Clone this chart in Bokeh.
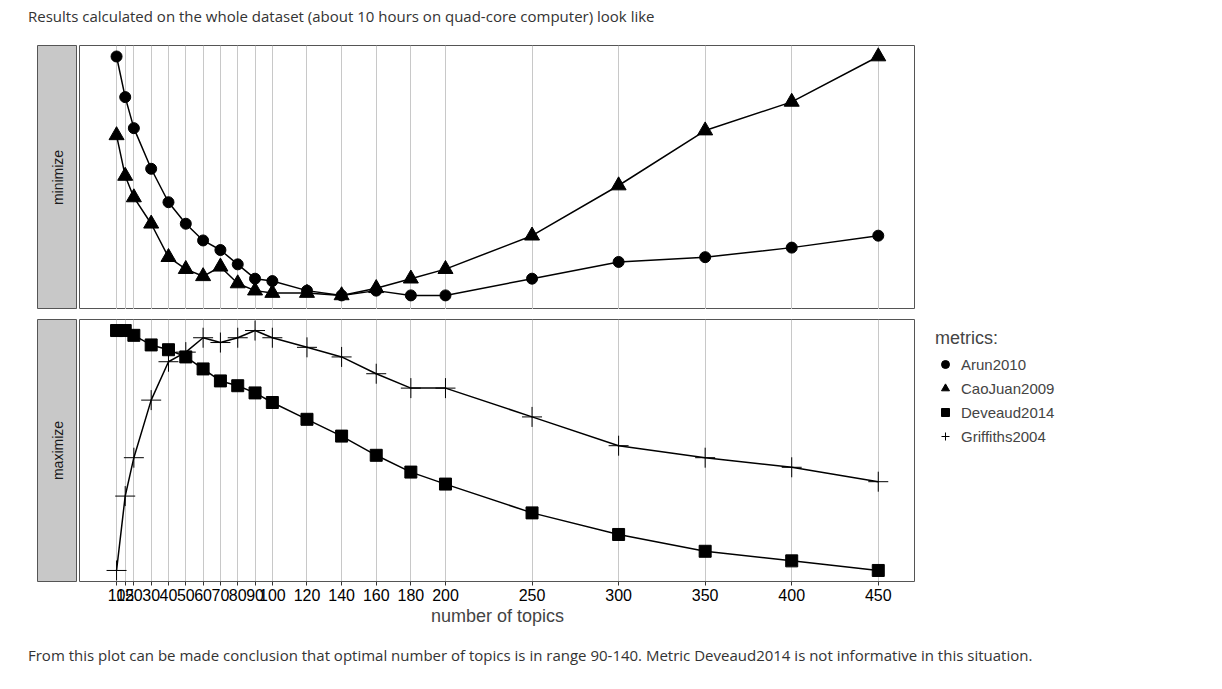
from math import pi
from bokeh.plotting import figure
from bokeh.models import Range1d, FixedTicker, Legend, LegendItem, Div
from bokeh.layouts import row, column
from bokeh.core.properties import value
from bokeh.embed import file_html
from bokeh.resources import INLINE

topics = [10, 15, 20, 30, 40, 50, 60, 70, 80, 90, 100, 120, 140, 160, 180, 200, 250, 300, 350, 400, 450]
tick_labels = {10: "10", 15: "15", 20: "20", 30: "30", 40: "40", 50: "50", 60: "60", 70: "70", 80: "80",
               90: "90", 100: "100", 120: "120", 140: "140", 160: "160", 180: "180", 200: "200",
               250: "250", 300: "300", 350: "350", 400: "400", 450: "450"}

# minimize panel (normalised metrics)
arun2010 = [1.00, 0.83, 0.70, 0.53, 0.39, 0.30, 0.23, 0.19, 0.13, 0.07, 0.06, 0.02, 0.00, 0.02, 0.00, 0.00,
            0.07, 0.14, 0.16, 0.20, 0.25]
caojuan2009 = [0.67, 0.50, 0.41, 0.30, 0.16, 0.11, 0.08, 0.12, 0.05, 0.02, 0.01, 0.01, 0.00, 0.03, 0.07, 0.11,
               0.25, 0.46, 0.69, 0.81, 1.00]
# maximize panel
deveaud2014 = [1.00, 1.00, 0.98, 0.94, 0.92, 0.89, 0.84, 0.79, 0.77, 0.74, 0.70, 0.63, 0.56, 0.48, 0.41, 0.36,
               0.24, 0.15, 0.08, 0.04, 0.00]
griffiths2004 = [0.00, 0.31, 0.47, 0.71, 0.87, 0.91, 0.97, 0.95, 0.97, 1.00, 0.97, 0.93, 0.89, 0.82, 0.76, 0.76,
                 0.64, 0.52, 0.47, 0.43, 0.37]

FONT = "Liberation Sans"
xr = Range1d(-11.4, 471.5)


def panel(h, yr, show_axis):
    p = figure(width=836, height=h, x_range=xr, y_range=Range1d(*yr), toolbar_location=None,
               output_backend="svg", min_border=0, min_border_bottom=50 if show_axis else 0)
    p.outline_line_color = "#555555"
    p.yaxis.visible = False
    p.ygrid.visible = False
    p.xgrid.ticker = FixedTicker(ticks=topics)
    p.xgrid.grid_line_color = "#c8c8c8"
    p.xgrid.grid_line_width = 1
    p.xaxis.ticker = FixedTicker(ticks=topics)
    if show_axis:
        p.xaxis.major_label_overrides = tick_labels
        p.xaxis.axis_line_color = None
        p.xaxis.minor_tick_line_color = None
        p.xaxis.major_tick_line_color = "#333333"
        p.xaxis.major_tick_out = 4
        p.xaxis.major_tick_in = 0
        p.xaxis.major_label_text_font = FONT
        p.xaxis.major_label_text_font_size = "16px"
        p.xaxis.major_label_text_color = "black"
        p.xaxis.major_label_standoff = 3
        p.xaxis.axis_label = "number of topics"
        p.xaxis.axis_label_text_font = FONT
        p.xaxis.axis_label_text_font_size = "18px"
        p.xaxis.axis_label_text_font_style = "normal"
        p.xaxis.axis_label_standoff = 2
    else:
        p.xaxis.visible = False
    return p


def strip(h, label, bottom):
    s = figure(width=40, height=h, x_range=(0, 1), y_range=(0, 1), toolbar_location=None,
               output_backend="svg", min_border=0, min_border_bottom=bottom)
    s.axis.visible = False
    s.grid.visible = False
    s.background_fill_color = "#c8c8c8"
    s.outline_line_color = "#555555"
    s.text(x=[0.5], y=[0.5], text=[label], angle=pi / 2, text_align="center", text_baseline="middle",
           text_font_size="14px", text_font=value(FONT), text_color="#1a1a1a")
    return s


top = panel(264, (-0.059, 1.046), False)
top.line(topics, arun2010, color="black", line_width=1.5)
top.scatter(topics, arun2010, marker="circle", size=11, color="black")
top.line(topics, caojuan2009, color="black", line_width=1.5)
top.scatter(topics, caojuan2009, marker="triangle", size=15, color="black")

bot = panel(312, (-0.046, 1.046), True)
bot.line(topics, deveaud2014, color="black", line_width=1.5)
bot.scatter(topics, deveaud2014, marker="square", size=12, color="black")
bot.line(topics, griffiths2004, color="black", line_width=1.5)
bot.scatter(topics, griffiths2004, marker="cross", size=20, color="black", line_width=1)

# legend panel (glyphs sit outside the visible range; only the legend shows)
lg = figure(width=230, height=586, toolbar_location=None, output_backend="svg", min_border=0,
            x_range=(0, 1), y_range=(0, 1))
lg.axis.visible = False
lg.grid.visible = False
lg.outline_line_color = None
items = []
for name, m, sz in [("Arun2010", "circle", 11), ("CaoJuan2009", "triangle", 14),
                    ("Deveaud2014", "square", 11), ("Griffiths2004", "cross", 18)]:
    r = lg.scatter([-5], [-5], marker=m, size=sz, color="black")
    items.append(LegendItem(label=name, renderers=[r]))
leg = Legend(items=items, location=(20, 185), title="metrics:")
leg.title_text_font = FONT
leg.title_text_font_size = "18px"
leg.title_text_font_style = "normal"
leg.label_text_font = FONT
leg.label_text_font_size = "15px"
leg.border_line_color = None
leg.background_fill_alpha = 0
leg.spacing = 4
leg.glyph_width = 20
leg.label_standoff = 6
lg.add_layout(leg)

top_txt = Div(text="Results calculated on the whole dataset (about 10 hours on quad-core computer) look like",
              styles={"font-family": "Open Sans", "font-size": "15px", "color": "#333"},
              margin=(6, 0, 18, 28))
bot_txt = Div(text="From this plot can be made conclusion that optimal number of topics is in range 90-140. "
                   "Metric Deveaud2014 is not informative in this situation.",
              styles={"font-family": "Open Sans", "font-size": "15px", "color": "#333"},
              margin=(14, 0, 0, 28))

panels = column(row(strip(264, "minimize", 0), top, spacing=2),
                row(strip(312, "maximize", 50), bot, spacing=2), spacing=10)
body = row(column(panels, margin=(0, 0, 0, 37)), lg)
layout = column(top_txt, body, bot_txt)

open("out.html", "w").write(file_html(layout, INLINE))
